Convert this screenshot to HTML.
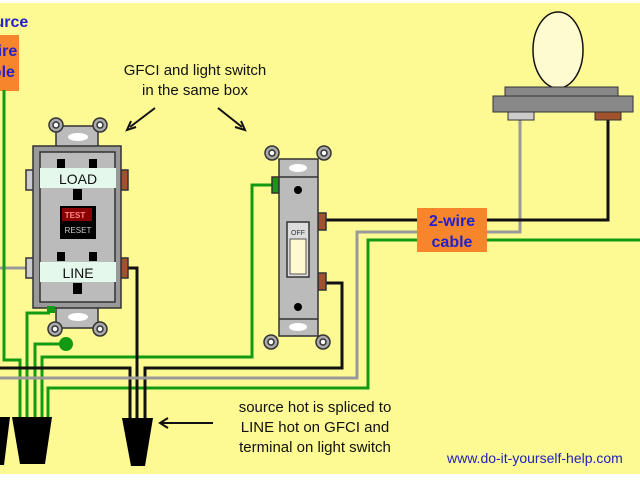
<!DOCTYPE html>
<html><head><style>
html,body{margin:0;padding:0;background:#fff;}
svg{display:block;}
text{font-family:"Liberation Sans",sans-serif;}
</style></head><body>
<svg width="640" height="480" viewBox="0 0 640 480">
<rect x="0" y="3" width="640" height="471" fill="#fdfa94"/>
<!-- source -->
<text x="-26" y="27" font-size="16" font-weight="bold" fill="#2222cc">Source</text>
<rect x="-5" y="35" width="24" height="56" fill="#f7852b"/>
<text x="-29" y="56" font-size="16" font-weight="bold" fill="#2222cc">2-wire</text>
<text x="-26" y="77" font-size="16" font-weight="bold" fill="#2222cc">cable</text>
<!-- labels -->
<text x="195" y="75" font-size="15" text-anchor="middle" fill="#111">GFCI and light switch</text>
<text x="195" y="95" font-size="15" text-anchor="middle" fill="#111">in the same box</text>
<g stroke="#111" stroke-width="2" fill="none">
<line x1="155" y1="108" x2="130" y2="127"/><polyline points="131,121 127,130 136,127"/>
<line x1="218" y1="108" x2="242" y2="127"/><polyline points="235,127 245,130 241,121"/>
<line x1="213" y1="423" x2="162" y2="423"/><polyline points="168,418 160,423 168,428"/>
</g>
<text x="315" y="412" font-size="15" text-anchor="middle" fill="#111">source hot is spliced to</text>
<text x="315" y="432" font-size="15" text-anchor="middle" fill="#111">LINE hot on GFCI and</text>
<text x="315" y="452" font-size="15" text-anchor="middle" fill="#111">terminal on light switch</text>
<text x="447" y="463" font-size="14" fill="#2222bb">www.do-it-yourself-help.com</text>
<!-- wires -->
<g fill="none" stroke-width="3">
<polyline stroke="#999" points="0,268 28,268"/>
<polyline stroke="#129a12" points="4,90 4,360 20,360 20,420"/>
<polyline stroke="#129a12" points="50,313 27,313 27,420"/>
<polyline stroke="#129a12" points="66,344 35,344 35,420"/>
<polyline stroke="#129a12" points="42,420 42,357 252,357 252,185 273,185"/>
<polyline stroke="#129a12" points="48,420 48,388 368,388 368,240 640,240"/>
<polyline stroke="#111" points="0,368 130,368 130,420"/>
<polyline stroke="#111" points="128,268 137,268 137,420"/>
<polyline stroke="#111" points="145,420 145,368 342,368 342,283 325,283"/>
<polyline stroke="#999" points="0,378 357,378 357,232 520,232 520,118"/>
<polyline stroke="#111" points="325,220 608,220 608,118"/>
</g>
<circle cx="66" cy="344" r="7" fill="#129a12"/>
<!-- wire nuts -->
<g fill="#000">
<polygon points="-8,417 10,417 4,465 -4,465"/>
<polygon points="12,417 52,417 45,464 20,464"/>
<polygon points="122,418 153,418 145,466 131,466"/>
</g>
<!-- cable box -->
<rect x="417" y="208" width="70" height="44" fill="#f7852b"/>
<text x="452" y="226" font-size="16" font-weight="bold" text-anchor="middle" fill="#2222cc">2-wire</text>
<text x="452" y="247" font-size="16" font-weight="bold" text-anchor="middle" fill="#2222cc">cable</text>
<!-- lamp -->
<ellipse cx="558" cy="50" rx="25" ry="38" fill="#fffbd0" stroke="#111" stroke-width="1.5"/>
<rect x="505" y="87" width="113" height="9" fill="#888" stroke="#333"/>
<rect x="493" y="96" width="140" height="16" fill="#888" stroke="#333"/>
<rect x="508" y="112" width="26" height="8" fill="#ccc" stroke="#333"/>
<rect x="595" y="112" width="26" height="8" fill="#a0522d" stroke="#333"/>
<!-- GFCI -->
<g stroke="#333" stroke-width="1.5">
<rect x="56" y="126" width="42" height="22" fill="#bbb"/>
<circle cx="56" cy="125" r="7" fill="#aaa"/><circle cx="56" cy="125" r="3" fill="#fff"/>
<circle cx="100" cy="125" r="7" fill="#aaa"/><circle cx="100" cy="125" r="3" fill="#fff"/>
<rect x="56" y="306" width="42" height="22" fill="#bbb"/>
<circle cx="55" cy="329" r="7" fill="#aaa"/><circle cx="55" cy="329" r="3" fill="#fff"/>
<circle cx="100" cy="329" r="7" fill="#aaa"/><circle cx="100" cy="329" r="3" fill="#fff"/>
<rect x="26" y="170" width="8" height="20" fill="#ccc"/>
<rect x="26" y="258" width="8" height="20" fill="#ccc"/>
<rect x="121" y="170" width="7" height="20" fill="#a0522d"/>
<rect x="121" y="258" width="7" height="20" fill="#a0522d"/>
<rect x="33" y="146" width="88" height="162" fill="#999"/>
<rect x="40" y="152" width="75" height="150" fill="#bbb"/>
</g>
<ellipse cx="78" cy="137" rx="10" ry="4" fill="#fff"/>
<ellipse cx="78" cy="317" rx="10" ry="4" fill="#fff"/>
<rect x="40" y="168" width="76" height="20" fill="#e4f8ec"/>
<text x="78" y="184" font-size="14" text-anchor="middle" fill="#111">LOAD</text>
<rect x="40" y="262" width="76" height="20" fill="#e4f8ec"/>
<text x="78" y="278" font-size="14" text-anchor="middle" fill="#111">LINE</text>
<g fill="#000">
<rect x="57" y="159" width="8" height="9"/><rect x="89" y="159" width="8" height="9"/>
<rect x="73" y="189" width="9" height="11"/>
<rect x="57" y="252" width="8" height="9"/><rect x="89" y="252" width="8" height="9"/>
<rect x="73" y="283" width="9" height="11"/>
<rect x="60" y="206" width="36" height="33"/>
</g>
<rect x="62" y="208" width="30" height="13" fill="#8b0000"/>
<text x="75" y="218" font-size="8" text-anchor="middle" fill="#f88" font-weight="bold">TEST</text>
<text x="78" y="233" font-size="8" text-anchor="middle" fill="#ccc">RESET</text>
<rect x="47" y="306" width="8" height="7" fill="#129a12"/>
<!-- switch -->
<g stroke="#333" stroke-width="1.5">
<rect x="272" y="177" width="7" height="16" fill="#129a12"/>
<rect x="318" y="213" width="8" height="17" fill="#a0522d"/>
<rect x="318" y="273" width="8" height="17" fill="#a0522d"/>
<circle cx="272" cy="153" r="7" fill="#aaa"/><circle cx="272" cy="153" r="3" fill="#fff"/>
<circle cx="324" cy="153" r="7" fill="#aaa"/><circle cx="324" cy="153" r="3" fill="#fff"/>
<circle cx="271" cy="342" r="7" fill="#aaa"/><circle cx="271" cy="342" r="3" fill="#fff"/>
<circle cx="323" cy="342" r="7" fill="#aaa"/><circle cx="323" cy="342" r="3" fill="#fff"/>
<rect x="279" y="159" width="39" height="177" fill="#bbb"/>
<line x1="279" y1="177" x2="318" y2="177"/>
<line x1="279" y1="319" x2="318" y2="319"/>
<rect x="287" y="222" width="22" height="55" fill="#ddd"/>
</g>
<ellipse cx="298" cy="168" rx="9" ry="4" fill="#fff"/>
<ellipse cx="298" cy="327" rx="9" ry="4" fill="#fff"/>
<circle cx="298" cy="190" r="4" fill="#000"/>
<circle cx="298" cy="307" r="4" fill="#000"/>
<rect x="290" y="239" width="16" height="35" fill="#fff8d0" stroke="#555"/>
<text x="298" y="235" font-size="7" text-anchor="middle" fill="#333">OFF</text>
</svg>
</body></html>
